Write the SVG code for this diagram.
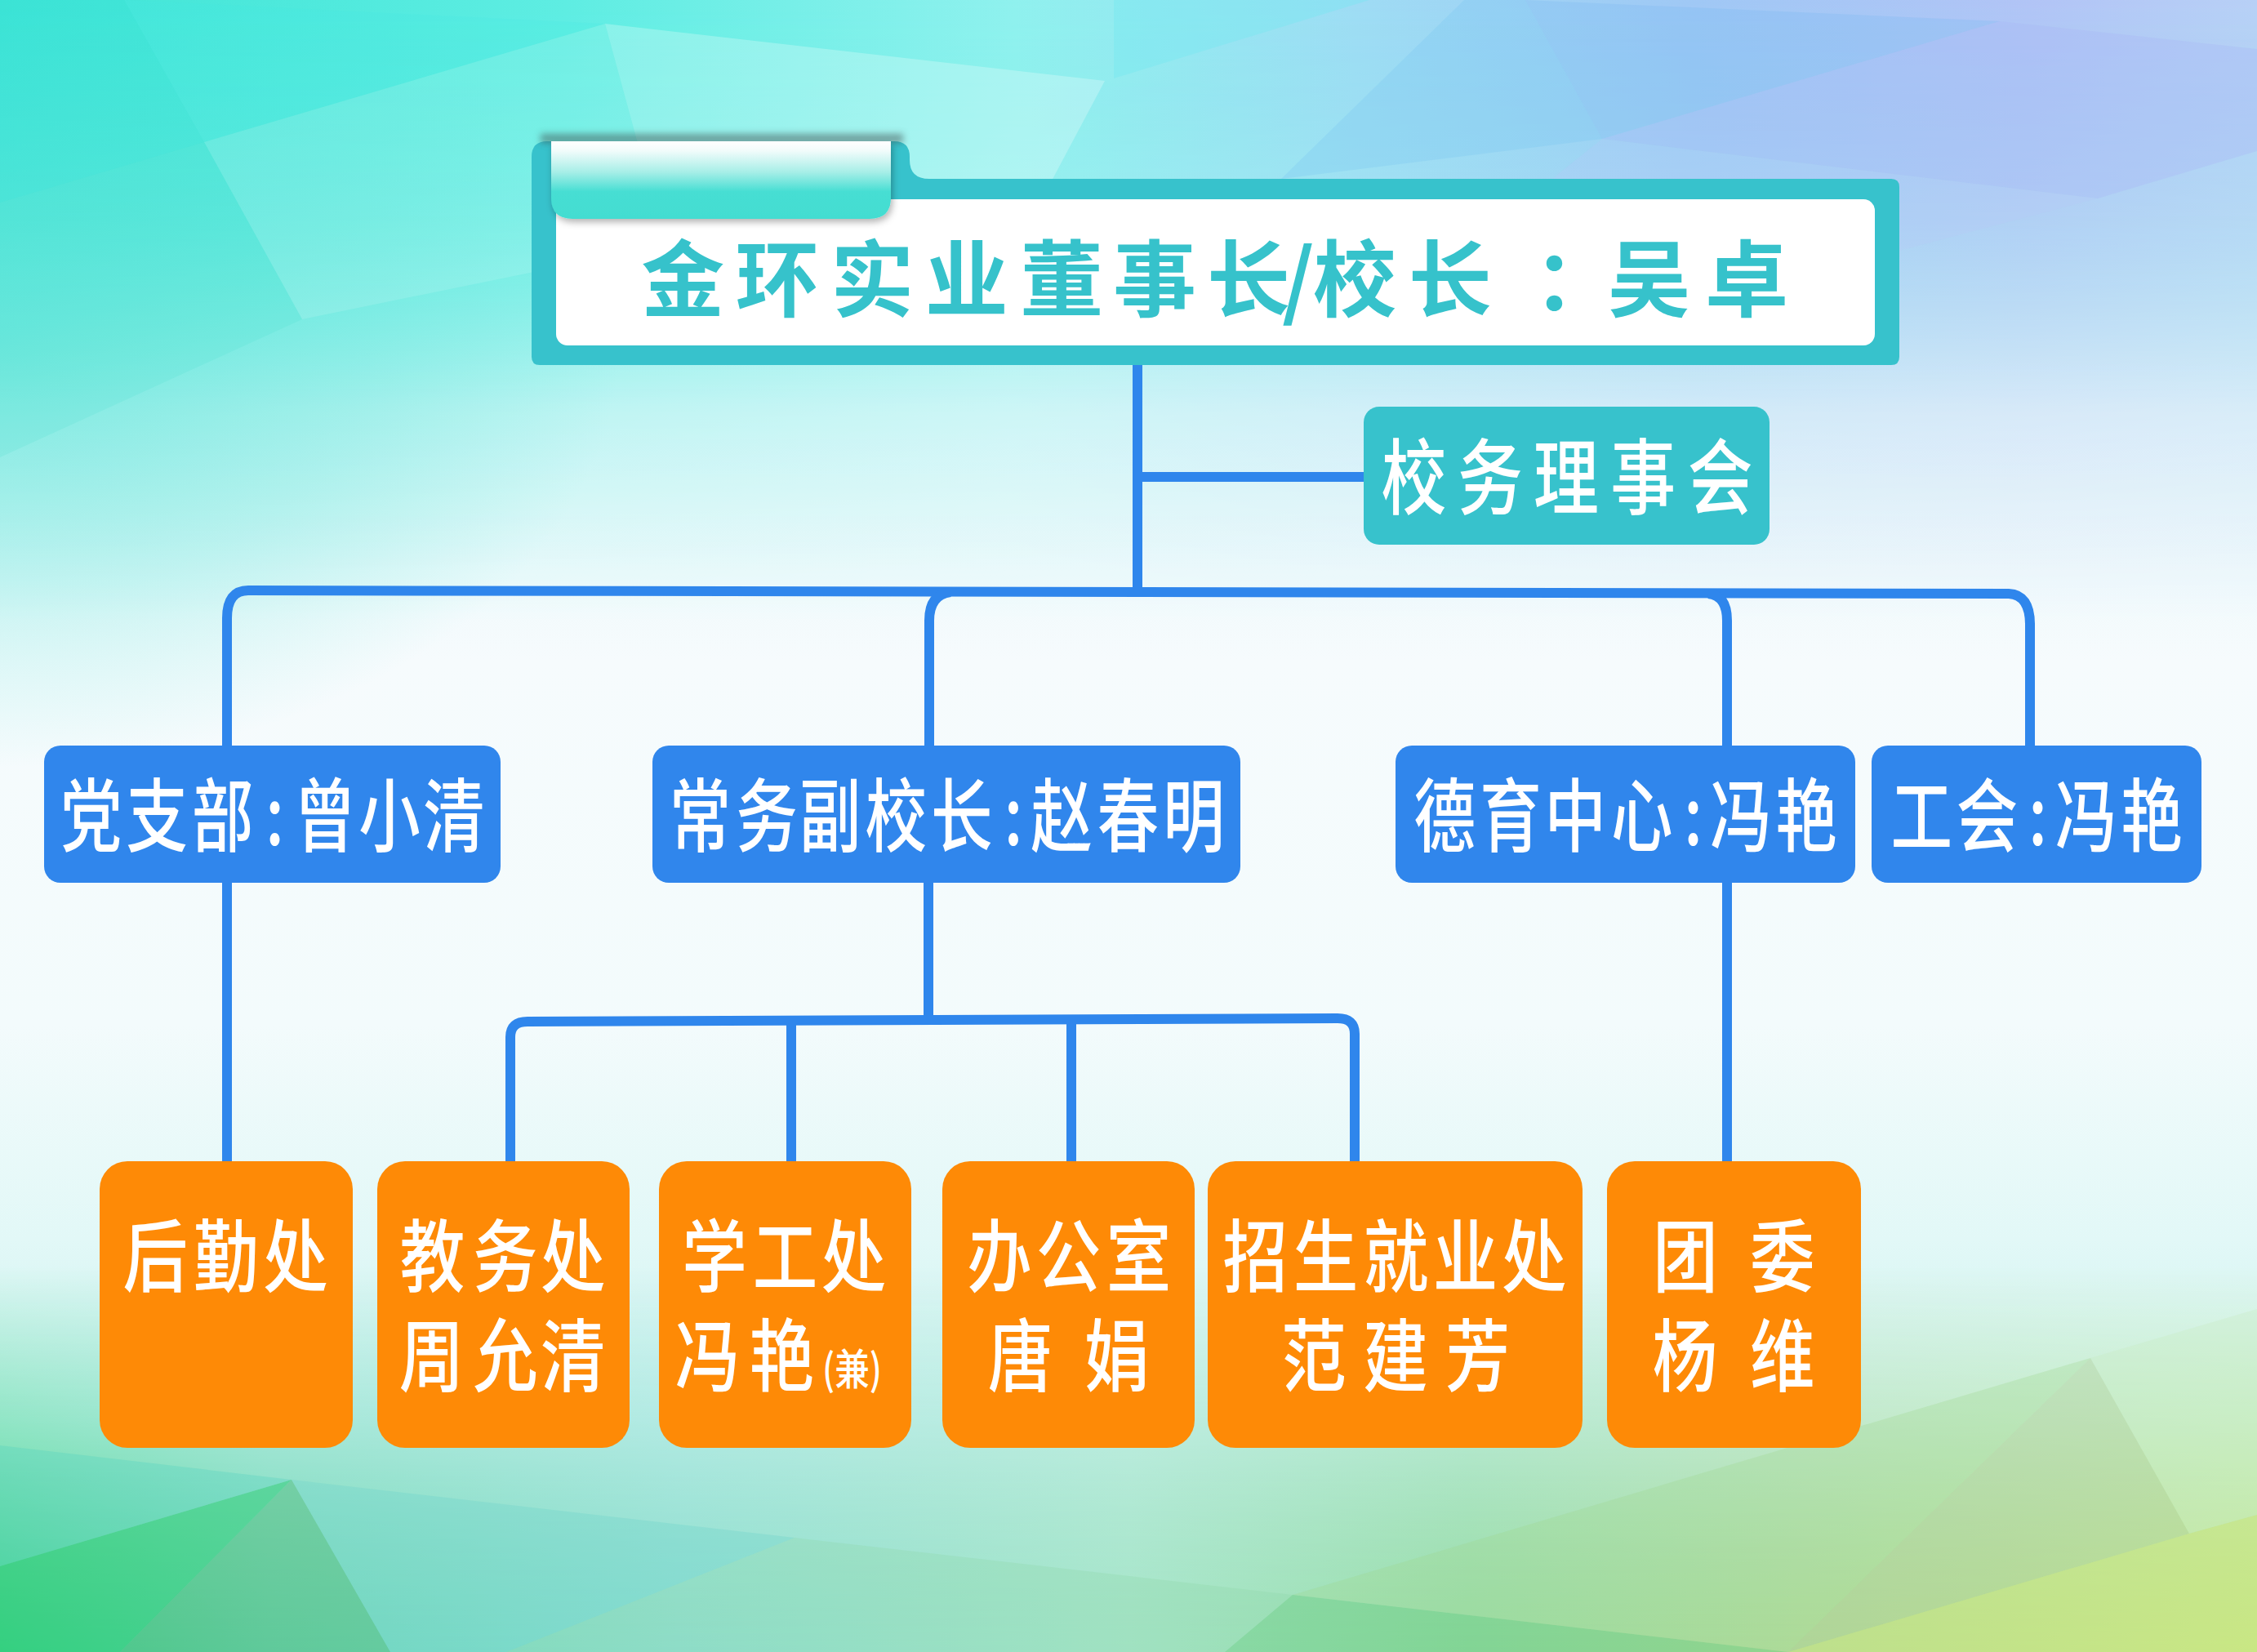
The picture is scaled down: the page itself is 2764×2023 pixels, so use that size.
<svg xmlns="http://www.w3.org/2000/svg" width="2764" height="2023" viewBox="0 0 2764 2023">
<style>
.lbl{font-family:"Noto Sans CJK SC","Noto Sans",sans-serif;fill:#ffffff;font-weight:500}
.blue{fill:#3086EC}
.orange{fill:#FE8A06}
.teal{fill:#37C2CC}
.conn{fill:none;stroke:#2F86EC;stroke-width:12}
.bt{font-size:98px}
.ot{font-size:97px}
</style>
<defs>
<linearGradient id="base" x1="0" y1="0" x2="0" y2="1">
<stop offset="0" stop-color="#5FE9E0"/>
<stop offset="0.12" stop-color="#A8F2EF"/>
<stop offset="0.25" stop-color="#E6F8FA"/>
<stop offset="0.40" stop-color="#F6FBFD"/>
<stop offset="0.62" stop-color="#F3FBFC"/>
<stop offset="0.75" stop-color="#E2F8F7"/>
<stop offset="0.86" stop-color="#CBF2EE"/>
<stop offset="1" stop-color="#A6E2C4"/>
</linearGradient>
<linearGradient id="topH" x1="0" y1="0" x2="1" y2="0">
<stop offset="0" stop-color="#3CE5D6"/>
<stop offset="0.25" stop-color="#5EEDE2"/>
<stop offset="0.45" stop-color="#90F1EE"/>
<stop offset="0.6" stop-color="#9FDCF4"/>
<stop offset="0.75" stop-color="#A0C8F5"/>
<stop offset="0.9" stop-color="#B2C4F6"/>
<stop offset="1" stop-color="#B8D0F6"/>
</linearGradient>
<linearGradient id="topFade" x1="0" y1="0" x2="0" y2="1">
<stop offset="0" stop-color="#fff" stop-opacity="1"/>
<stop offset="0.35" stop-color="#fff" stop-opacity="0.75"/>
<stop offset="0.65" stop-color="#fff" stop-opacity="0.3"/>
<stop offset="1" stop-color="#fff" stop-opacity="0"/>
</linearGradient>
<mask id="mTop"><rect x="0" y="0" width="2764" height="760" fill="url(#topFade)"/></mask>
<linearGradient id="botH" x1="0" y1="0" x2="1" y2="0">
<stop offset="0" stop-color="#3BD38A"/>
<stop offset="0.12" stop-color="#6FD8B8"/>
<stop offset="0.3" stop-color="#8EDFD4"/>
<stop offset="0.5" stop-color="#A8E6CC"/>
<stop offset="0.65" stop-color="#9ADDA8"/>
<stop offset="0.8" stop-color="#B4DC9C"/>
<stop offset="1" stop-color="#CBEA8C"/>
</linearGradient>
<linearGradient id="botFade" x1="0" y1="0" x2="0" y2="1">
<stop offset="0" stop-color="#fff" stop-opacity="0"/>
<stop offset="0.45" stop-color="#fff" stop-opacity="0.45"/>
<stop offset="1" stop-color="#fff" stop-opacity="1"/>
</linearGradient>
<mask id="mBot"><rect x="0" y="1550" width="2764" height="473" fill="url(#botFade)"/></mask>
<radialGradient id="leftTeal" cx="0.5" cy="0.5" r="0.5">
<stop offset="0" stop-color="#55E3D6" stop-opacity="0.55"/>
<stop offset="0.6" stop-color="#55E3D6" stop-opacity="0.25"/>
<stop offset="1" stop-color="#55E3D6" stop-opacity="0"/>
</radialGradient>
<linearGradient id="tabG" x1="0" y1="0" x2="0" y2="1">
<stop offset="0" stop-color="#FFFFFF"/>
<stop offset="0.12" stop-color="#F2FCFB"/>
<stop offset="0.4" stop-color="#A6EEE7"/>
<stop offset="0.65" stop-color="#46DED3"/>
<stop offset="1" stop-color="#43DDD1"/>
</linearGradient>
<filter id="blur4" x="-20%" y="-200%" width="140%" height="500%"><feGaussianBlur stdDeviation="4"/></filter>
<filter id="tabShadow" x="-10%" y="-20%" width="120%" height="150%"><feDropShadow dx="2" dy="4" stdDeviation="4" flood-color="#000" flood-opacity="0.3"/></filter>
</defs>

<g id="background">
<rect x="0" y="0" width="2764" height="2023" fill="url(#base)"/>
<rect x="0" y="0" width="2764" height="760" fill="url(#topH)" mask="url(#mTop)"/>
<ellipse cx="0" cy="420" rx="760" ry="520" fill="url(#leftTeal)"/>
<rect x="0" y="1550" width="2764" height="473" fill="url(#botH)" mask="url(#mBot)"/>
<polygon points="0,0 152,0 250,174 0,248" fill="#2EE0D2" opacity="0.25"/>
<polygon points="152,0 741,29 250,174" fill="#45EBE4" opacity="0.18"/>
<polygon points="250,174 741,29 815,300 370,391" fill="#ffffff" opacity="0.12"/>
<polygon points="741,29 1353,99 1230,330 815,300" fill="#ffffff" opacity="0.25"/>
<polygon points="0,248 250,174 370,391 0,560" fill="#3CDCCC" opacity="0.15"/>
<polygon points="1364,0 1677,0 1364,96" fill="#6FE8F2" opacity="0.35"/>
<polygon points="1793,0 1868,0 1962,170 1569,219" fill="#7CC8F2" opacity="0.3"/>
<polygon points="1868,0 2449,26 1962,170" fill="#7FB8F2" opacity="0.3"/>
<polygon points="2449,26 2764,60 2764,185 2569,243 1962,170" fill="#A8B8F6" opacity="0.35"/>
<polygon points="1962,170 2569,243 2200,340 1700,380" fill="#B8C8F8" opacity="0.25"/>
<polygon points="0,1918 357,1812 147,2023 0,2023" fill="#30CC78" opacity="0.55"/>
<polygon points="357,1812 147,2023 478,2023" fill="#4EB878" opacity="0.45"/>
<polygon points="357,1812 973,1883 620,2023 478,2023" fill="#70D4CC" opacity="0.35"/>
<polygon points="0,1770 357,1812 0,1918" fill="#50D0C0" opacity="0.3"/>
<polygon points="973,1883 1583,1953 1500,2023 620,2023" fill="#8ED8A8" opacity="0.3"/>
<polygon points="1583,1953 2190,2023 1500,2023" fill="#60C878" opacity="0.4"/>
<polygon points="2074,1807 2560,1663 2190,2023 1583,1953" fill="#A0D890" opacity="0.3"/>
<polygon points="2560,1663 2681,1878 2190,2023" fill="#A8C890" opacity="0.35"/>
<polygon points="2190,2023 2681,1878 2764,1855 2764,2023" fill="#C8E47C" opacity="0.5"/>
<polygon points="2560,1663 2764,1603 2764,1855 2681,1878" fill="#C8EAC0" opacity="0.3"/>
</g>

<g id="connectors" class="conn">
<path d="M1393 447 V725"/>
<path d="M1393 584 H1672"/>
<path d="M278 913 V757 Q278 723 304 723 L2460 727 Q2486 728 2486 765 V913"/>
<path d="M1164 725 Q1138 728 1138 760 V913"/>
<path d="M2092 727 Q2115 729 2115 760 V913"/>
<path d="M278 1081 V1422"/>
<path d="M1137 1081 V1249"/>
<path d="M625 1422 V1270 Q625 1251 646 1251 L1638 1247 Q1659 1247 1659 1266 V1422"/>
<path d="M969 1249 V1422"/>
<path d="M1312 1248 V1422"/>
<path d="M2115 1081 V1422"/>
</g>

<g id="node-chairman">
<path class="teal" d="M651,192 Q651,173 670,173 L1095,173 Q1114,173 1114,192 L1114,196 Q1114,219 1138,219 L2316,219 Q2326,219 2326,229 L2326,437 Q2326,447 2316,447 L661,447 Q651,447 651,437 Z"/>
<rect x="681" y="244" width="1615" height="179" rx="14" fill="#ffffff"/>
<rect x="662" y="164" width="444" height="11" fill="#3a4a4a" opacity="0.5" filter="url(#blur4)"/>
<path d="M675,173 L1091,173 L1091,242 Q1091,268 1065,268 L701,268 Q675,268 675,242 Z" fill="url(#tabG)" filter="url(#tabShadow)"/>
<text x="785.2 900.7 1017.3 1132.8 1249.3 1363.1 1478 1570 1608.1 1724.7 1878 1968.7 2087.9" y="380" font-family="'Noto Sans CJK SC','Noto Sans',sans-serif" font-size="102" font-weight="700" fill="#36C2CB">金环实业董事长/校长：吴卓</text>
</g>

<g id="node-council">
<rect x="1670" y="498" width="497" height="169" rx="19" class="teal"/>
<text class="lbl" font-size="101" transform="scale(0.79 1)" x="2141.1 2259.5 2377.1 2496.6 2616.3" y="622">校务理事会</text>
</g>

<g id="node-party">
<rect x="54" y="913" width="559" height="168" rx="20" class="blue"/>
<text class="lbl bt" transform="scale(0.77 1)" x="96.1 200.8 305.3 422.5 467.9 570.5 673.1" y="1035">党支部:曾小清</text>
</g>

<g id="node-vice">
<rect x="799" y="913" width="720" height="168" rx="20" class="blue"/>
<text class="lbl bt" transform="scale(0.77 1)" x="1064.7 1170.6 1271.4 1376.1 1480.6 1597.1 1639.2 1745.2 1849.7" y="1035">常务副校长:赵春明</text>
</g>

<g id="node-moral">
<rect x="1709" y="913" width="563" height="168" rx="20" class="blue"/>
<text class="lbl bt" transform="scale(0.77 1)" x="2248.6 2353.6 2456.6 2562.3 2678.4 2719.7 2823.8" y="1035">德育中心:冯艳</text>
</g>

<g id="node-union">
<rect x="2292" y="913" width="404" height="168" rx="20" class="blue"/>
<text class="lbl bt" transform="scale(0.77 1)" x="3007.3 3111.3 3226.4 3268.7 3373.2" y="1035">工会:冯艳</text>
</g>

<g id="node-logistics">
<rect x="122" y="1422" width="310" height="351" rx="34" class="orange"/>
<text class="lbl ot" transform="scale(0.82 1)" x="183.4 289.0 393.0" y="1574">后勤处</text>
</g>

<g id="node-academic">
<rect x="462" y="1422" width="309" height="351" rx="34" class="orange"/>
<text class="lbl ot" transform="scale(0.82 1)"><tspan x="597.2 706.1 807.3" y="1574">教务处</tspan><tspan x="596.1 706.1 807.3" y="1696">周允清</tspan></text>
</g>

<g id="node-student">
<rect x="807" y="1422" width="309" height="351" rx="34" class="orange"/>
<text class="lbl ot" transform="scale(0.82 1)"><tspan x="1018.5 1124.1 1226.5" y="1574">学工处</tspan><tspan x="1008.2 1118.8" y="1696">冯艳</tspan><tspan x="1228" y="1696" font-size="52">(兼)</tspan></text>
</g>

<g id="node-office">
<rect x="1154" y="1422" width="309" height="351" rx="34" class="orange"/>
<text class="lbl ot" transform="scale(0.82 1)"><tspan x="1444.3 1547.2 1652.2" y="1574">办公室</tspan><tspan x="1475.4 1560 1619.6" y="1696">唐 娟</tspan></text>
</g>

<g id="node-admission">
<rect x="1479" y="1422" width="459" height="351" rx="34" class="orange"/>
<text class="lbl ot" transform="scale(0.82 1)"><tspan x="1826.2 1931.5 2036.3 2140.1 2242.6" y="1574">招生就业处</tspan><tspan x="1913.7 2035.6 2158.2" y="1696">范建芳</tspan></text>
</g>

<g id="node-league">
<rect x="1968" y="1422" width="311" height="351" rx="34" class="orange"/>
<text class="lbl ot" transform="scale(0.82 1)"><tspan x="2468.5 2560 2613.4" y="1574">团 委</tspan><tspan x="2467.8 2560 2613.4" y="1696">杨 维</tspan></text>
</g>
</svg>
